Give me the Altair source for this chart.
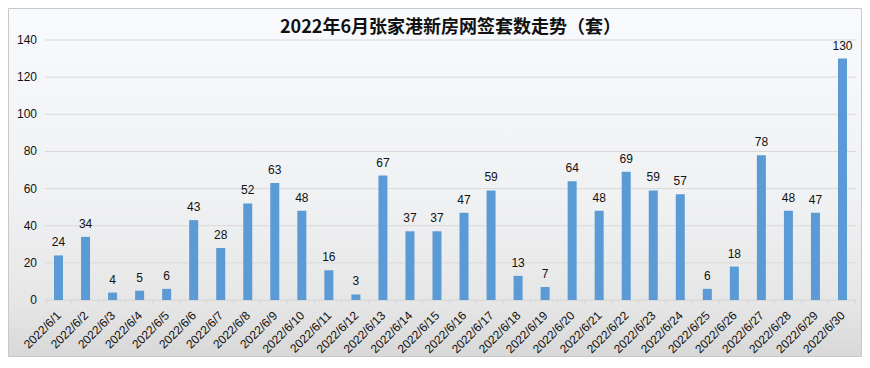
import altair as alt
import pandas as pd

dates = [f"2022/6/{d}" for d in range(1, 31)]
values = [24, 34, 4, 5, 6, 43, 28, 52, 63, 48, 16, 3, 67, 37, 37, 47, 59, 13, 7,
          64, 48, 69, 59, 57, 6, 18, 78, 48, 47, 130]
y_ticks = [0, 20, 40, 60, 80, 100, 120, 140]
title_text = "2022年6月张家港新房网签套数走势（套）"

W, H = 811, 260
PL, PT, PR, PB = 37, 32, 6, 57

df = pd.DataFrame({"date": dates, "value": values})
grid_df = pd.DataFrame({"v": y_ticks})
bg_df = pd.DataFrame({"a": [0]})

xscale = alt.Scale(domain=dates)
yscale = alt.Scale(domain=[0, 140])

gradient = alt.LinearGradient(
    gradient="linear", x1=0, y1=0, x2=0, y2=1,
    stops=[alt.GradientStop(offset=0, color="#f8fafd"),
           alt.GradientStop(offset=0.55, color="#f0f1f3"),
           alt.GradientStop(offset=0.85, color="#e6e6e6"),
           alt.GradientStop(offset=1, color="#d8d8d8")])

bg = alt.Chart(bg_df).mark_rect(fill=gradient, stroke="#c8c8c8", strokeWidth=1).encode(
    x=alt.value(-PL + 0.5), x2=alt.value(W + PR - 0.5),
    y=alt.value(-PT + 0.5), y2=alt.value(H + PB - 0.5))

grid = alt.Chart(grid_df).mark_rule(color="#d9d9d9", strokeWidth=1).encode(
    y=alt.Y("v:Q", scale=yscale, axis=None),
    x=alt.value(0), x2=alt.value(W))

ylabels = alt.Chart(grid_df).mark_text(align="right", baseline="middle", dx=-8,
                                       font="Liberation Sans", fontSize=12,
                                       color="#111").encode(
    y=alt.Y("v:Q", scale=yscale, axis=None),
    x=alt.value(0),
    text="v:Q")

bars = alt.Chart(df).mark_bar(color="#5b9bd5", size=9).encode(
    x=alt.X("date:N", scale=xscale, sort=dates,
            axis=alt.Axis(title=None, labelAngle=-45, labelAlign="right",
                          labelBaseline="middle", labelPadding=9,
                          tickBand="extent", tickSize=4, tickColor="#d9d9d9",
                          domainColor="#d9d9d9", labelFont="Liberation Sans",
                          labelFontSize=12, labelColor="#111", labelOverlap=False,
                          zindex=1)),
    y=alt.Y("value:Q", scale=yscale, axis=None))

labels = alt.Chart(df).mark_text(baseline="bottom", dy=-6, font="Liberation Sans",
                                 fontSize=12, color="#111").encode(
    x=alt.X("date:N", scale=xscale, sort=dates),
    y=alt.Y("value:Q", scale=yscale, axis=None),
    text="value:Q")

chart = alt.layer(bg, grid, ylabels, bars, labels).properties(
    width=W, height=H,
    autosize=alt.AutoSizeParams(type="none"),
    padding={"left": PL, "top": PT, "right": PR, "bottom": PB},
    title=alt.TitleParams(text=title_text, font="Noto Sans CJK SC", fontSize=18,
                          fontWeight="bold", color="#111", frame="group",
                          anchor="middle", offset=-29),
    background="white",
).configure_view(stroke=None)

chart.save("out.html", embed_options={"renderer": "svg", "actions": False})
